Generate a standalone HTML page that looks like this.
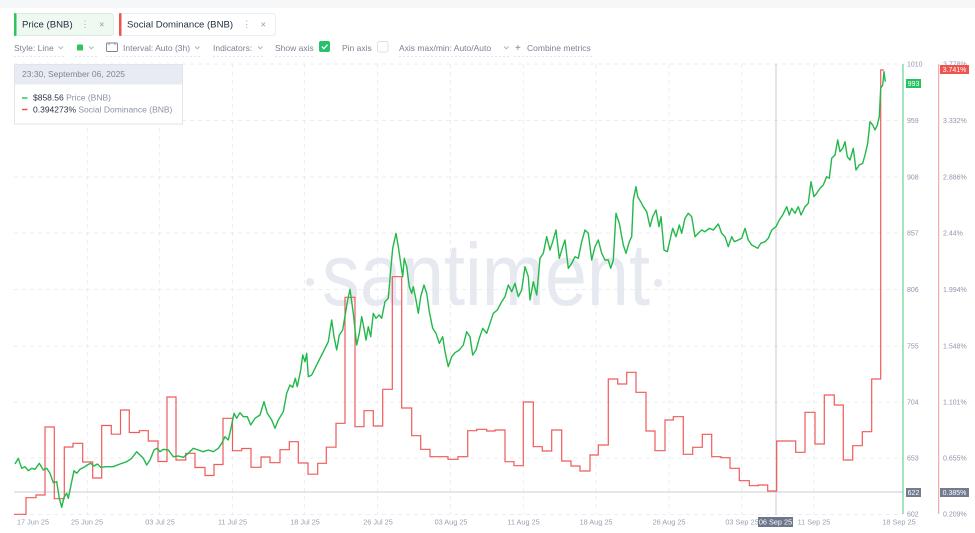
<!DOCTYPE html>
<html>
<head>
<meta charset="utf-8">
<style>
html,body{margin:0;padding:0;background:#fff;}
body{width:975px;height:533px;overflow:hidden;}
svg{display:block;font-family:"Liberation Sans",Arial,sans-serif;}
</style>
</head>
<body>
<svg width="975" height="533" viewBox="0 0 975 533" xmlns="http://www.w3.org/2000/svg">
  <rect x="0" y="0" width="975" height="533" fill="#ffffff"/>
  <rect x="0" y="0" width="975" height="8" fill="#f6f7f9"/>

  <!-- Tabs -->
  <rect x="14.5" y="13.5" width="99" height="22" rx="3" fill="#eff9f2" stroke="#d9eee0"/>
  <rect x="14" y="13" width="2.5" height="23" rx="1" fill="#2ec55a"/>
  <text x="22" y="27.5" font-size="9.6" fill="#253041">Price (BNB)</text>
  <text x="85" y="27.5" font-size="9.6" fill="#a3a9b6" text-anchor="middle">⋮</text>
  <text x="101.7" y="27.5" font-size="9" fill="#8e95a4" text-anchor="middle">×</text>

  <rect x="119.5" y="13.5" width="156" height="22" rx="3" fill="#ffffff" stroke="#eceef2"/>
  <rect x="119" y="13" width="2.5" height="23" rx="1" fill="#ef5350"/>
  <text x="127" y="27.5" font-size="9.6" fill="#253041">Social Dominance (BNB)</text>
  <text x="246.7" y="27.5" font-size="9.6" fill="#a3a9b6" text-anchor="middle">⋮</text>
  <text x="263.3" y="27.5" font-size="9" fill="#8e95a4" text-anchor="middle">×</text>

  <!-- Toolbar -->
  <g font-size="8.5" fill="#7b8294">
    <text x="14" y="51">Style: Line</text>
    <text x="123" y="51">Interval: Auto (3h)</text>
    <text x="213" y="51">Indicators:</text>
    <text x="275" y="51">Show axis</text>
    <text x="342" y="51">Pin axis</text>
    <text x="399" y="51">Axis max/min: Auto/Auto</text>
    <text x="515" y="51" font-size="10">+</text>
    <text x="527" y="51">Combine metrics</text>
  </g>
  <g fill="none" stroke="#a7adba" stroke-width="0.9">
    <path d="M58.5 46.5 l2.3 2.3 l2.3 -2.3"/>
    <path d="M89 46.5 l2.3 2.3 l2.3 -2.3"/>
    <path d="M195 46.5 l2.3 2.3 l2.3 -2.3"/>
    <path d="M258 46.5 l2.3 2.3 l2.3 -2.3"/>
    <path d="M504 46.5 l2.3 2.3 l2.3 -2.3"/>
  </g>
  <rect x="77" y="44.5" width="6" height="6" rx="1" fill="#2ec55a"/>
  <g fill="none" stroke="#7b8294" stroke-width="0.9">
    <rect x="106.5" y="43" width="11" height="8.5" rx="1"/>
    <path d="M109 43 v2 M115 43 v2"/>
  </g>
  <rect x="319" y="41" width="11" height="11" rx="2" fill="#27c06b"/>
  <path d="M321.8 46.6 l2.1 2.1 l3.6 -4" fill="none" stroke="#ffffff" stroke-width="1.3"/>
  <rect x="377.5" y="41.5" width="10.5" height="10.5" rx="2" fill="#ffffff" stroke="#dde0e6"/>
  <g stroke="#d9dce3" stroke-width="0.8" stroke-dasharray="2 2">
    <line x1="14" y1="56.5" x2="66" y2="56.5"/>
    <line x1="75" y1="56.5" x2="97" y2="56.5"/>
    <line x1="106" y1="56.5" x2="202" y2="56.5"/>
    <line x1="213" y1="56.5" x2="265" y2="56.5"/>
    <line x1="275" y1="56.5" x2="314" y2="56.5"/>
    <line x1="399" y1="56.5" x2="510" y2="56.5"/>
    <line x1="514" y1="56.5" x2="592" y2="56.5"/>
  </g>

  <!-- Grid -->
  <g stroke="#e6e8ed" stroke-width="0.8" stroke-dasharray="4 4">
    <line x1="14" y1="64" x2="903" y2="64"/>
    <line x1="14" y1="120.5" x2="903" y2="120.5"/>
    <line x1="14" y1="177" x2="903" y2="177"/>
    <line x1="14" y1="233" x2="903" y2="233"/>
    <line x1="14" y1="289.5" x2="903" y2="289.5"/>
    <line x1="14" y1="346" x2="903" y2="346"/>
    <line x1="14" y1="402" x2="903" y2="402"/>
    <line x1="14" y1="458" x2="903" y2="458"/>
    <line x1="14" y1="514.5" x2="903" y2="514.5"/>
    <line x1="87.3" y1="64" x2="87.3" y2="514"/>
    <line x1="159.3" y1="64" x2="159.3" y2="514"/>
    <line x1="232.3" y1="64" x2="232.3" y2="514"/>
    <line x1="304.3" y1="64" x2="304.3" y2="514"/>
    <line x1="377.7" y1="64" x2="377.7" y2="514"/>
    <line x1="450.5" y1="64" x2="450.5" y2="514"/>
    <line x1="523.3" y1="64" x2="523.3" y2="514"/>
    <line x1="596" y1="64" x2="596" y2="514"/>
    <line x1="669" y1="64" x2="669" y2="514"/>
    <line x1="741.7" y1="64" x2="741.7" y2="514"/>
    <line x1="814" y1="64" x2="814" y2="514"/>
  </g>

  <!-- Watermark -->
  <g fill="#e7e9f1">
    <circle cx="310" cy="282" r="4"/>
    <circle cx="658" cy="283" r="4"/>
    <text x="322" y="305" font-size="88" textLength="328" lengthAdjust="spacingAndGlyphs">santiment</text>
  </g>

  <!-- Crosshair -->
  <line x1="14" y1="492" x2="903" y2="492" stroke="#c9cdd6" stroke-width="1"/>
  <line x1="776" y1="64" x2="776" y2="515" stroke="#c9cdd6" stroke-width="1"/>

  <!-- Social dominance step line -->
  <path fill="none" stroke="#f05a5a" stroke-width="1.2" stroke-linejoin="miter" d="M14 514.3 H26 V497.7 H36 V495 H45 V427 H54.3 V498.7 H64.3 V447 H73 V443.3 H82.7 V462 H92.7 V478 H101.7 V425.5 H111.3 V434.2 H120.5 V410 H129.3 V432.5 H139.3 V430.7 H148.3 V441 H158 V461.5 H167 V397 H176 V460 H185.7 V453.3 H195 V467.5 H205 V475.5 H214 V464.5 H223 V418.3 H232.5 V450.7 H241.7 V448.5 H251 V467.3 H261 V457 H270 V462.7 H280 V449.7 H289.3 V441.7 H298.3 V463 H308 V474.2 H317.7 V463.3 H326.3 V447.2 H336 V423.3 H345 V297.3 H355 V426.7 H364 V410.7 H373.3 V426 H382.7 V389.3 H392.3 V276.7 H401.7 V408 H411.7 V435.7 H420.7 V449.3 H430 V456.7 H448 V459.3 H458 V456.7 H467.7 V430.7 H476.7 V429.3 H486.7 V431 H495 V430 H505 V461.7 H514 V465.7 H523.3 V402 H533.3 V446.7 H542.3 V451 H551.7 V430 H561.7 V461 H571 V466 H580 V471 H590 V455 H598.3 V445 H608.3 V379 H617.7 V384 H626.7 V372.3 H636 V392.3 H646 V431 H655 V450.7 H665 V420 H673.3 V416.7 H683.3 V454.3 H692.7 V447.3 H702.3 V434.3 H711.7 V456.7 H721 V457.7 H730 V468.3 H739.3 V480.7 H749.3 V485.7 H758.3 V485 H767.7 V491 H776.7 V441 H786 V441 H795.7 V452.3 H805 V412.3 H815 V444 H824.3 V395 H834.3 V405 H843.3 V460 H852.7 V445.7 H862.3 V431.7 H871.7 V379 H880.7 V70 H884"/>

  <!-- Price line -->
  <polyline fill="none" stroke="#22b84a" stroke-width="1.4" stroke-linejoin="round" points="15,464 18.3,458.3 21.7,468.3 25,466.7 28.3,470.7 31.7,468.3 35,469.3 39.3,463.3 43.3,470 46.7,468.3 50,473.3 53.3,482.7 56.7,481.7 59.3,498.3 61.7,507.3 64,497.3 66.7,493.3 68.3,498.3 71.7,481.7 74,470.7 76.7,473.3 80,469.3 84,467.3 87.3,465 90.7,463.3 94,466 97.3,464 100.7,467.3 106.7,466.7 113.3,466.7 120,464 126.7,461.7 131.7,458.3 136.7,451.7 140,455 143.3,458.3 146.7,465 150,460 154,450 156.7,448.3 160,451.7 163.3,449.3 168.3,450 173.3,456.7 178.3,456 183.3,457.3 188.3,453.3 193.3,448.3 198.3,450 203.3,451.7 208.3,450 213.3,451.7 218.3,448.3 221.7,443.3 225,436.7 228.3,440 231,428.3 234,413.3 236.7,418.3 240,412.7 243.3,416.7 247.3,416.7 250.7,425 255,418.3 260,415 264,401.7 267.3,413.3 271.7,420 275,428.3 278.3,420 283.3,411.7 286.7,393.3 290,385 292.7,387.3 295.3,378.3 297.3,386.7 300.7,370 302.7,355 305,361.7 306.7,353.3 308.3,376.7 311.7,375 315,368.3 318.3,361.7 321.7,355 325,348.3 328.3,341.7 331.7,320 334,336.7 336.7,350 339.3,335 342.7,330 346,310 347.7,300 350,289.3 351.7,301.7 353.3,313.3 356.7,345 359.3,333.3 361.7,316.7 364,328.3 366,340 368.3,326.7 370.7,336.7 373.3,313.3 376,318.3 379.3,315 381.7,318.3 385,301.7 388.3,298.3 390.7,270 392.7,248.3 396,233.3 398.3,246.7 400.7,263.3 402.7,276.7 404.3,258.3 406.7,266.7 409.3,286.7 411.7,293.3 413.3,286.7 416,300 418.3,313.3 420.7,296.7 424,285 426.7,293.3 429.3,311.7 432.7,328.3 436,333.3 439.3,343.3 442.7,336.7 445,351.7 448.3,366.7 451.7,356.7 455,352.7 459.3,350 463.3,345 466.7,331.7 470,336.7 472.7,355 476,350 479.3,338.3 482.7,328.3 486.7,333.3 490,323.3 493.3,313.3 497.3,310 501.7,301.7 505,296.7 508.3,285 511.7,291.7 515,283.3 518.3,296.7 521.7,290 525,266.7 528.3,276.7 530,300 533.3,281.7 536.7,295 540,258.3 543.3,253.3 546.7,236.7 550,250 552.7,241.7 556,230 559.3,258.3 562.7,246.7 565,240 568.3,268.3 571.7,263.3 575,256.7 578.3,258.3 581.7,241.7 585,230 588.3,233.3 591.7,260 595,246.7 598.3,240 601.7,253.3 605,260 608.3,260 610.7,268.3 613.3,260 616,213.3 619.3,223.3 623.3,245 626,253.3 629.3,241.7 631.7,236.7 633.3,200 636,186.7 637.7,196.7 640.7,201.7 643.3,206.7 646.7,211.7 650,226.7 652.7,216.7 656,210 659,226.7 661,216.7 664,250 667.3,251.7 670,240 672.7,228.3 676,236.7 679.3,225 681.7,233.3 685,218.3 688.3,213.3 691.7,216.7 695,236.7 698.3,233.3 701.7,230 705,231.7 709.3,228.3 713.3,230 718.3,224 721.7,233.3 725,236.7 728.3,246.7 731.7,236.7 734.3,241.7 738.3,240 741.7,238.3 745,228.3 748.3,240 751.7,245 755,246.7 757.7,248.3 760.7,243.3 765,241.7 768.3,238.3 771.7,230 776,226.7 779.3,220 782.7,215 786.7,206.7 789.3,215 791.7,208.3 795,213.3 798.3,206.7 801,215 805,206.7 808.3,203.3 811,181.7 814,196.7 816.7,193.3 820,188.3 823.3,185 826.7,176.7 829.3,178.3 831.7,158.3 835,155 837.7,140 840,151.7 842.7,148.3 845,141.7 847.3,156.7 850,160 853.3,148.3 856,170 859.3,165 862.7,163.3 865,155 867.7,143.3 870,121.7 872.7,125 875,130 877.3,125 879.3,116.7 880.7,88.3 882.7,85 884,71.7 885.3,81.7"/>

  <!-- Axes -->
  <line x1="903" y1="64" x2="903" y2="514" stroke="#4cc97a" stroke-width="1"/>
  <line x1="938.7" y1="64" x2="938.7" y2="514" stroke="#f29a9a" stroke-width="1"/>

  <g font-size="7" fill="#9096ae">
    <text x="907" y="66.5">1010</text>
    <text x="907" y="123">959</text>
    <text x="907" y="179.5">908</text>
    <text x="907" y="235.5">857</text>
    <text x="907" y="292">806</text>
    <text x="907" y="348.5">755</text>
    <text x="907" y="404.5">704</text>
    <text x="907" y="460.5">653</text>
    <text x="907" y="516.5">602</text>
    <text x="943" y="66.5">3.778%</text>
    <text x="943" y="123">3.332%</text>
    <text x="943" y="179.5">2.886%</text>
    <text x="943" y="235.5">2.44%</text>
    <text x="943" y="292">1.994%</text>
    <text x="943" y="348.5">1.548%</text>
    <text x="943" y="404.5">1.101%</text>
    <text x="943" y="460.5">0.655%</text>
    <text x="943" y="516.5">0.209%</text>
  </g>

  <!-- Value boxes -->
  <rect x="906" y="79" width="15" height="9" fill="#27c160"/>
  <text x="913.5" y="86" font-size="7" fill="#ffffff" text-anchor="middle">993</text>
  <rect x="940" y="65" width="29" height="9" fill="#ef5350"/>
  <text x="954.5" y="72" font-size="7" fill="#ffffff" text-anchor="middle">3.741%</text>
  <rect x="906" y="488" width="15" height="9" fill="#737b90"/>
  <text x="913.5" y="495" font-size="7" fill="#ffffff" text-anchor="middle">622</text>
  <rect x="940" y="488" width="29" height="9" fill="#737b90"/>
  <text x="954.5" y="495" font-size="7" fill="#ffffff" text-anchor="middle">0.385%</text>

  <!-- X axis labels -->
  <g font-size="7.3" fill="#9aa0b4" text-anchor="middle">
    <text x="33" y="524.3">17 Jun 25</text>
    <text x="87" y="524.3">25 Jun 25</text>
    <text x="160" y="524.3">03 Jul 25</text>
    <text x="232.5" y="524.3">11 Jul 25</text>
    <text x="305" y="524.3">18 Jul 25</text>
    <text x="378" y="524.3">26 Jul 25</text>
    <text x="451" y="524.3">03 Aug 25</text>
    <text x="523.5" y="524.3">11 Aug 25</text>
    <text x="596" y="524.3">18 Aug 25</text>
    <text x="669" y="524.3">26 Aug 25</text>
    <text x="742" y="524.3">03 Sep 25</text>
    <text x="814" y="524.3">11 Sep 25</text>
    <text x="899" y="524.3">18 Sep 25</text>
  </g>
  <rect x="758" y="517" width="35" height="10" fill="#6d768b"/>
  <text x="775.5" y="524.5" font-size="7.3" fill="#ffffff" text-anchor="middle">06 Sep 25</text>

  <!-- Tooltip -->
  <rect x="14.5" y="64.5" width="168" height="59.5" fill="#ffffff" stroke="#e1e4ea"/>
  <rect x="15" y="65" width="167" height="19.5" fill="#e8ebf1"/>
  <text x="22" y="77" font-size="8.5" fill="#7d8597">23:30, September 06, 2025</text>
  <line x1="22" y1="98" x2="27.5" y2="98" stroke="#2ec55a" stroke-width="1.5"/>
  <text x="33" y="100.7" font-size="8.5" fill="#2a3242">$858.56 <tspan fill="#8b92a3">Price (BNB)</tspan></text>
  <line x1="22" y1="109.5" x2="27.5" y2="109.5" stroke="#ef5350" stroke-width="1.5"/>
  <text x="33" y="112.3" font-size="8.5" fill="#2a3242">0.394273% <tspan fill="#8b92a3">Social Dominance (BNB)</tspan></text>
</svg>
</body>
</html>
